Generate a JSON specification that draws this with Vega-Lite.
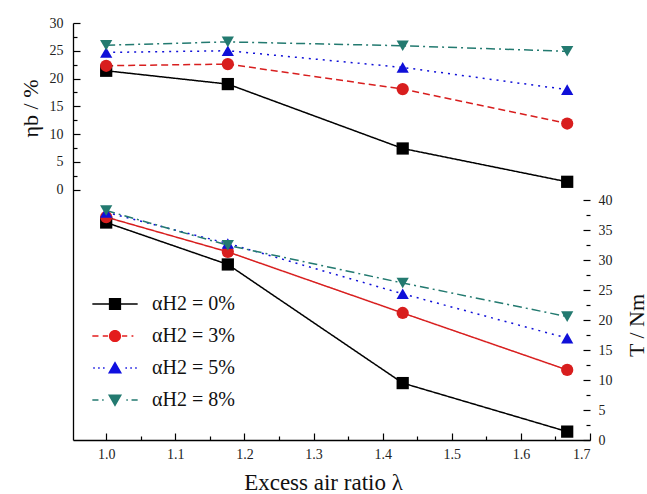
{
  "$schema": "https://vega.github.io/schema/vega-lite/v6.json",
  "width": 517,
  "height": 417,
  "autosize": "none",
  "padding": {"left": 73, "top": 23, "right": 57, "bottom": 54},
  "background": "white",
  "config": {
    "view": {"stroke": null},
    "axis": {
      "labelFont": "Liberation Serif",
      "labelFontSize": 14,
      "labelColor": "#222",
      "titleFont": "Liberation Serif",
      "titleFontSize": 22,
      "titleFontWeight": "normal",
      "titleColor": "#111",
      "domainColor": "#000",
      "domainWidth": 1.3,
      "tickColor": "#000",
      "tickWidth": 1.2,
      "grid": false
    },
    "legend": {
      "labelFont": "Liberation Serif",
      "labelFontSize": 20,
      "labelFontWeight": "normal"
    }
  },
  "data": {
    "values": [
      {"lambda": 1.0, "series": "αH2 = 0%", "eta": 21.4, "torque": 36.3},
      {"lambda": 1.176, "series": "αH2 = 0%", "eta": 19.0, "torque": 29.3},
      {"lambda": 1.429, "series": "αH2 = 0%", "eta": 7.4, "torque": 9.5},
      {"lambda": 1.667, "series": "αH2 = 0%", "eta": 1.4, "torque": 1.4},
      {"lambda": 1.0, "series": "αH2 = 3%", "eta": 22.3, "torque": 37.2},
      {"lambda": 1.176, "series": "αH2 = 3%", "eta": 22.6, "torque": 31.4},
      {"lambda": 1.429, "series": "αH2 = 3%", "eta": 18.1, "torque": 21.2},
      {"lambda": 1.667, "series": "αH2 = 3%", "eta": 11.9, "torque": 11.7},
      {"lambda": 1.0, "series": "αH2 = 5%", "eta": 24.7, "torque": 38.0},
      {"lambda": 1.176, "series": "αH2 = 5%", "eta": 25.0, "torque": 32.8},
      {"lambda": 1.429, "series": "αH2 = 5%", "eta": 22.0, "torque": 24.4},
      {"lambda": 1.667, "series": "αH2 = 5%", "eta": 18.0, "torque": 17.0},
      {"lambda": 1.0, "series": "αH2 = 8%", "eta": 26.0, "torque": 38.3},
      {"lambda": 1.176, "series": "αH2 = 8%", "eta": 26.6, "torque": 32.5},
      {"lambda": 1.429, "series": "αH2 = 8%", "eta": 25.9, "torque": 26.2},
      {"lambda": 1.667, "series": "αH2 = 8%", "eta": 24.9, "torque": 20.6}
    ]
  },
  "encoding": {
    "x": {
      "field": "lambda",
      "type": "quantitative",
      "scale": {"domain": [0.952, 1.7], "nice": false, "zero": false},
      "axis": {
        "values": [1.0, 1.05, 1.1, 1.15, 1.2, 1.25, 1.3, 1.35, 1.4, 1.45, 1.5, 1.55, 1.6, 1.65, 1.7],
        "labelExpr": "round(datum.value*100) % 10 === 0 ? format(datum.value, '.1f') : ''",
        "tickSize": {"condition": {"test": "round(datum.value*100) % 10 === 0", "value": -7}, "value": -4},
        "labelPadding": 14,
        "labelFont": "Liberation Serif",
        "labelFontSize": 14,
        "title": "Excess air ratio λ",
        "titleFontSize": 23,
        "titleX": 250,
        "titleY": 42,
        "titleBaseline": "middle",
        "titleAlign": "center"
      }
    }
  },
  "layer": [
    {
      "encoding": {
        "y": {
          "field": "eta",
          "type": "quantitative",
          "scale": {"domain": [-45.1, 30], "nice": false, "zero": false},
          "axis": {
            "orient": "left",
            "values": [0, 2.5, 5, 7.5, 10, 12.5, 15, 17.5, 20, 22.5, 25, 27.5, 30],
            "labelExpr": "datum.value % 5 === 0 ? format(datum.value, 'd') : ''",
            "tickSize": {"condition": {"test": "datum.value % 5 === 0", "value": -7}, "value": -4},
            "labelPadding": 17,
            "labelFont": "Liberation Serif",
            "labelFontSize": 14,
            "title": "ηb / %",
            "titleX": -43,
            "titleY": 85,
            "titleAngle": -90,
            "titleBaseline": "middle",
            "titleAlign": "center"
          }
        },
        "color": {
          "field": "series",
          "type": "nominal",
          "scale": {"domain": ["αH2 = 0%", "αH2 = 3%", "αH2 = 5%", "αH2 = 8%"], "range": ["#000000", "#d81e1e", "#1010d8", "#237a70"]},
          "legend": null
        }
      },
      "layer": [
        {
          "mark": {"type": "line", "strokeWidth": 1.5},
          "encoding": {
            "strokeDash": {
              "field": "series",
              "type": "nominal",
              "scale": {"domain": ["αH2 = 0%", "αH2 = 3%", "αH2 = 5%", "αH2 = 8%"], "range": [[1, 0], [7, 4], [2, 5], [9, 4, 2, 4]]},
              "legend": null
            }
          }
        },
        {"transform": [{"filter": "datum.series === 'αH2 = 0%'"}], "mark": {"type": "point", "shape": "square", "filled": true, "opacity": 1, "size": 150}},
        {"transform": [{"filter": "datum.series === 'αH2 = 3%'"}], "mark": {"type": "point", "shape": "circle", "filled": true, "opacity": 1, "size": 150}},
        {"transform": [{"filter": "datum.series === 'αH2 = 5%'"}], "mark": {"type": "point", "shape": "triangle-up", "filled": true, "opacity": 1, "size": 150}},
        {"transform": [{"filter": "datum.series === 'αH2 = 8%'"}], "mark": {"type": "point", "shape": "triangle-down", "filled": true, "opacity": 1, "size": 150}}
      ]
    },
    {
      "encoding": {
        "y": {
          "field": "torque",
          "type": "quantitative",
          "scale": {"domain": [0, 69.6], "nice": false, "zero": false},
          "axis": {
            "orient": "right",
            "domain": false,
            "values": [0, 2.5, 5, 7.5, 10, 12.5, 15, 17.5, 20, 22.5, 25, 27.5, 30, 32.5, 35, 37.5, 40],
            "labelExpr": "datum.value % 5 === 0 ? format(datum.value, 'd') : ''",
            "tickSize": {"condition": {"test": "datum.value % 5 === 0", "value": -7}, "value": -4},
            "labelPadding": 15,
            "labelFont": "Liberation Serif",
            "labelFontSize": 14,
            "title": "T / Nm",
            "titleX": 46,
            "titleY": 302,
            "titleAngle": -90,
            "titleBaseline": "middle",
            "titleAlign": "center"
          }
        },
        "color": {
          "field": "series",
          "type": "nominal",
          "scale": {"domain": ["αH2 = 0%", "αH2 = 3%", "αH2 = 5%", "αH2 = 8%"], "range": ["#000000", "#d81e1e", "#1010d8", "#237a70"]},
          "legend": null
        }
      },
      "layer": [
        {
          "mark": {"type": "line", "strokeWidth": 1.5},
          "encoding": {
            "strokeDash": {
              "field": "series",
              "type": "nominal",
              "scale": {"domain": ["αH2 = 0%", "αH2 = 3%", "αH2 = 5%", "αH2 = 8%"], "range": [[1, 0], [1, 0], [2, 5], [9, 4, 2, 4]]},
              "legend": null
            }
          }
        },
        {"transform": [{"filter": "datum.series === 'αH2 = 0%'"}], "mark": {"type": "point", "shape": "square", "filled": true, "opacity": 1, "size": 150}},
        {"transform": [{"filter": "datum.series === 'αH2 = 3%'"}], "mark": {"type": "point", "shape": "circle", "filled": true, "opacity": 1, "size": 150}},
        {"transform": [{"filter": "datum.series === 'αH2 = 5%'"}], "mark": {"type": "point", "shape": "triangle-up", "filled": true, "opacity": 1, "size": 150}},
        {"transform": [{"filter": "datum.series === 'αH2 = 8%'"}], "mark": {"type": "point", "shape": "triangle-down", "filled": true, "opacity": 1, "size": 150}},
        {
          "data": {"values": [{"from": 0, "to": 40}]},
          "mark": {"type": "rule", "color": "#000", "strokeWidth": 1.3},
          "encoding": {
            "x": {"datum": 1.7, "type": "quantitative"},
            "y": {"field": "from", "type": "quantitative"},
            "y2": {"field": "to"},
            "color": {"value": "#000"}
          }
        }
      ]
    },
    {
      "mark": {"type": "point", "filled": true, "opacity": 0, "size": 150, "strokeWidth": 0},
      "encoding": {
        "y": {"field": "torque", "type": "quantitative", "scale": {"domain": [0, 69.6], "nice": false}, "axis": null},
        "color": {
          "field": "series",
          "type": "nominal",
          "scale": {"domain": ["αH2 = 0%", "αH2 = 3%", "αH2 = 5%", "αH2 = 8%"], "range": ["#000000", "#e41c1c", "#1010e0", "#237a70"]},
          "legend": {
            "orient": "none",
            "legendX": 32,
            "legendY": 271,
            "title": null,
            "padding": 0,
            "rowPadding": 12,
            "labelOffset": 27,
            "labelFont": "Liberation Serif",
            "labelFontSize": 20,
            "labelFontWeight": "normal",
            "labelColor": "#111",
            "labelLimit": 300,
            "symbolSize": 150,
            "symbolStrokeWidth": 0,
            "symbolOpacity": 1
          }
        },
        "shape": {
          "field": "series",
          "type": "nominal",
          "scale": {
            "domain": ["αH2 = 0%", "αH2 = 3%", "αH2 = 5%", "αH2 = 8%"],
            "range": [
              "M-3.7,-0.13H3.7V0.13H-3.7Z M-1,-1H1V1H-1Z",
              "M-3.7,-0.12H-2.7V0.12H-3.7Z M-2.0,-0.12H-1.15V0.12H-2.0Z M1.15,-0.12H2.0V0.12H1.15Z M2.7,-0.12H3.0V0.12H2.7Z M-1,0A1,1 0 1,1 1,0A1,1 0 1,1 -1,0Z",
              "M-3.55,-0.13H-3.3V0.13H-3.55Z M-2.75,-0.13H-2.5V0.13H-2.75Z M-1.95,-0.13H-1.7V0.13H-1.95Z M1.7,-0.13H1.95V0.13H1.7Z M2.5,-0.13H2.75V0.13H2.5Z M3.3,-0.13H3.55V0.13H3.3Z M0,-1.1L1.15,0.9L-1.15,0.9Z",
              "M-3.7,-0.12H-2.7V0.12H-3.7Z M-2.1,-0.12H-1.85V0.12H-2.1Z M1.85,-0.12H2.1V0.12H1.85Z M2.7,-0.12H3.7V0.12H2.7Z M0,1.1L1.15,-0.9L-1.15,-0.9Z"
            ]
          },
          "legend": {
            "orient": "none",
            "legendX": 32,
            "legendY": 271,
            "title": null,
            "padding": 0,
            "rowPadding": 12,
            "labelOffset": 27,
            "labelFont": "Liberation Serif",
            "labelFontSize": 20,
            "labelFontWeight": "normal",
            "labelColor": "#111",
            "labelLimit": 300,
            "symbolSize": 150,
            "symbolStrokeWidth": 0,
            "symbolOpacity": 1
          }
        }
      }
    }
  ],
  "resolve": {"scale": {"y": "independent", "strokeDash": "independent", "color": "independent", "shape": "independent"}}
}
